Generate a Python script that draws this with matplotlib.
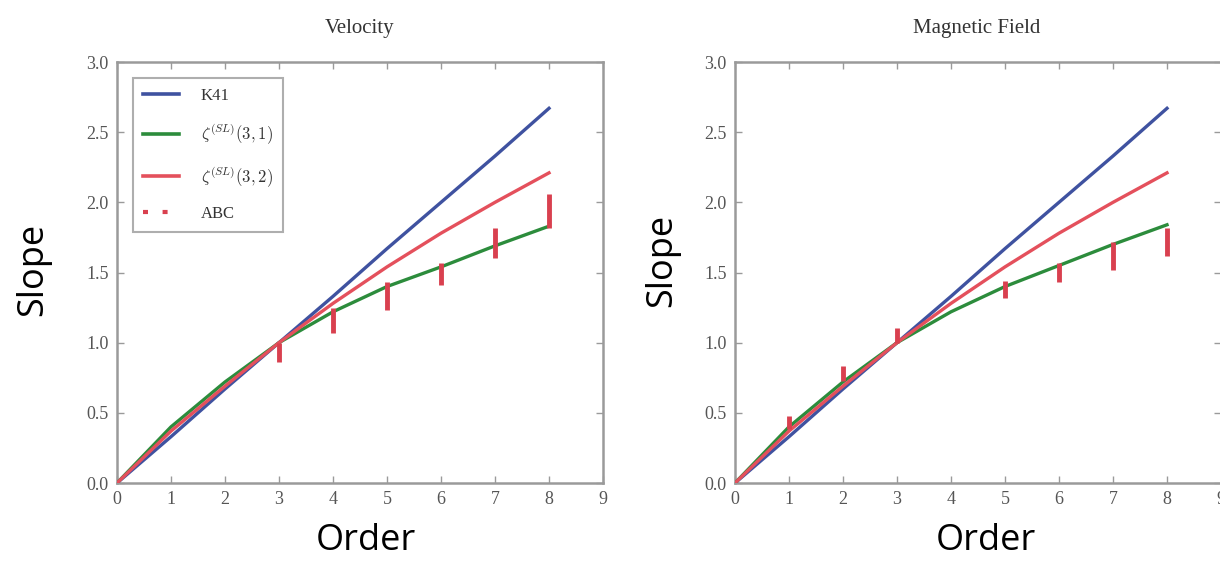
import matplotlib
matplotlib.use("Agg")
import matplotlib.pyplot as plt
from matplotlib.lines import Line2D
from matplotlib.ticker import FormatStrFormatter

# Structure-function scaling exponents versus order
orders = [0, 1, 2, 3, 4, 5, 6, 7, 8]

vel_k41 = [0.0, 0.33, 0.67, 1.0, 1.33, 1.67, 2.0, 2.33, 2.67]
vel_model_31 = [0.0, 0.40, 0.72, 1.0, 1.22, 1.40, 1.54, 1.69, 1.83]
vel_model_32 = [0.0, 0.37, 0.69, 1.0, 1.28, 1.54, 1.78, 2.00, 2.21]
vel_abc_orders = [3, 4, 5, 6, 7, 8]
vel_abc = [0.93, 1.16, 1.33, 1.49, 1.71, 1.94]
vel_abc_err = [0.07, 0.09, 0.10, 0.08, 0.11, 0.12]

mag_k41 = [0.0, 0.33, 0.67, 1.0, 1.33, 1.67, 2.0, 2.33, 2.67]
mag_model_31 = [0.0, 0.40, 0.72, 1.0, 1.22, 1.40, 1.55, 1.70, 1.84]
mag_model_32 = [0.0, 0.37, 0.69, 1.0, 1.28, 1.54, 1.78, 2.00, 2.21]
mag_abc_orders = [1, 2, 3, 5, 6, 7, 8]
mag_abc = [0.43, 0.78, 1.05, 1.38, 1.50, 1.62, 1.72]
mag_abc_err = [0.045, 0.055, 0.055, 0.06, 0.07, 0.10, 0.10]

panel_titles = ["Velocity", "Magnetic Field"]
legend_labels = ["K41", r"$\zeta^{(SL)}(3,1)$", r"$\zeta^{(SL)}(3,2)$", "ABC"]
x_ticks = [0, 1, 2, 3, 4, 5, 6, 7, 8, 9]
y_ticks = [0.0, 0.5, 1.0, 1.5, 2.0, 2.5, 3.0]

BLUE = "#3f52a0"
GREEN = "#2c8c3c"
RED = "#e4505c"
BAR = "#d9404f"
SPINE = "#9a9a9a"
TICKTXT = "#555555"

plt.rcParams["mathtext.fontset"] = "cm"

fig = plt.figure(figsize=(12.2, 5.61), dpi=100)
W, H = 1220.0, 561.0
ax_w = 486 / W
ax_b = 1 - 483 / H
ax_h = (483 - 62) / H
ax_left = fig.add_axes([117 / W, ax_b, ax_w, ax_h])
ax_right = fig.add_axes([735 / W, ax_b, ax_w, ax_h])

panels = [
    (ax_left, vel_k41, vel_model_31, vel_model_32, vel_abc_orders, vel_abc, vel_abc_err),
    (ax_right, mag_k41, mag_model_31, mag_model_32, mag_abc_orders, mag_abc, mag_abc_err),
]

for ax, k41, m31, m32, abc_x, abc_y, abc_e in panels:
    ax.plot(orders, k41, color=BLUE, lw=2.4, zorder=3)
    ax.plot(orders, m31, color=GREEN, lw=2.4, zorder=3)
    ax.plot(orders, m32, color=RED, lw=2.4, zorder=3)
    ax.errorbar(abc_x, abc_y, yerr=abc_e, fmt="none", ecolor=BAR,
                elinewidth=3.5, capsize=0, zorder=4)
    ax.set_xlim(0, 9)
    ax.set_ylim(0, 3)
    ax.set_xticks(x_ticks)
    ax.set_yticks(y_ticks)
    ax.yaxis.set_major_formatter(FormatStrFormatter("%.1f"))
    ax.tick_params(direction="in", length=5, width=1, color=SPINE,
                   top=True, right=True, labelsize=13, labelcolor=TICKTXT, pad=6)
    for lab in ax.get_xticklabels() + ax.get_yticklabels():
        lab.set_family("Liberation Serif")
    for sp in ax.spines.values():
        sp.set_color(SPINE)
        sp.set_linewidth(1.8)

handles = [
    Line2D([], [], color=BLUE, lw=2.6),
    Line2D([], [], color=GREEN, lw=2.6),
    Line2D([], [], color=RED, lw=2.6),
    Line2D([], [], color=BAR, lw=3, ls=(0, (1.2, 3.5))),
]
leg = ax_left.legend(handles, legend_labels, loc="upper left",
                     bbox_to_anchor=(0.015, 0.982), frameon=True, fancybox=False,
                     prop={"family": "Liberation Serif", "size": 12},
                     labelspacing=1.05, borderpad=0.6, handlelength=2.2,
                     handletextpad=1.3)
leg.get_frame().set_edgecolor(SPINE)
leg.get_frame().set_linewidth(1.5)
for t in leg.get_texts():
    t.set_color("#333333")

# Panel titles
fig.text(360 / W, 1 - 28 / H, panel_titles[0], ha="center", va="center",
         family="Liberation Serif", fontsize=15, color="#333333")
fig.text(977 / W, 1 - 28 / H, panel_titles[1], ha="center", va="center",
         family="Liberation Serif", fontsize=15, color="#333333")

# Axis labels
for xc in (366, 986):
    fig.text(xc / W, 2 / H, "Order", ha="center", va="bottom",
             family="Open Sans", fontsize=26, color="black")
for xc, yc in ((33, 269), (662, 260)):
    fig.text(xc / W, 1 - yc / H, "Slope", ha="center", va="center", rotation=90,
             family="Open Sans", fontsize=26, color="black")

fig.savefig("out.png", dpi=100)
